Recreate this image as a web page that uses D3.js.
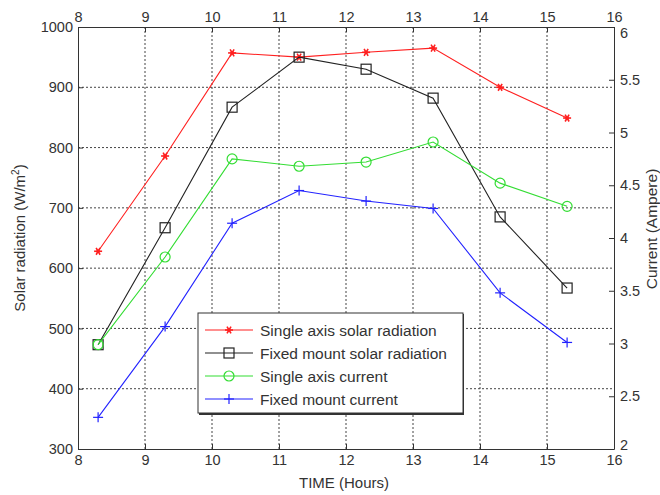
<!DOCTYPE html>
<html>
<head>
<meta charset="utf-8">
<script src="https://cdn.jsdelivr.net/npm/d3@7"></script>
<style>
  body { margin: 0; background: #fff; }
  svg { font-family: "Liberation Sans", Arial, sans-serif; }
  .axis text { font-size: 14.5px; fill: #333; }
  .axis path, .axis line { stroke: #333; }
</style>
</head>
<body>
<div id="chart"></div>
<script>
/* data */
var hours = [8.3, 9.3, 10.3, 11.3, 12.3, 13.3, 14.3, 15.3];
var singleRadiation = [628, 786, 957, 950, 958, 965, 900, 849];
var fixedRadiation = [473, 667, 867, 950, 930, 882, 685, 567];
var singleCurrent = [2.99, 3.82, 4.75, 4.68, 4.72, 4.91, 4.52, 4.30];
var fixedCurrent = [2.30, 3.16, 4.14, 4.45, 4.35, 4.28, 3.48, 3.01];

var xTicks = [8, 9, 10, 11, 12, 13, 14, 15, 16];
var leftTicks = [300, 400, 500, 600, 700, 800, 900, 1000];
var rightTicks = [2, 2.5, 3, 3.5, 4, 4.5, 5, 5.5, 6];

var series = [
  { name: "Single axis solar radiation", values: singleRadiation, axis: "left", color: "#ff2020", marker: "star" },
  { name: "Fixed mount solar radiation", values: fixedRadiation, axis: "left", color: "#222222", marker: "square" },
  { name: "Single axis current", values: singleCurrent, axis: "right", color: "#33dd33", marker: "circle" },
  { name: "Fixed mount current", values: fixedCurrent, axis: "right", color: "#2222ff", marker: "plus" }
];

var W = 660, H = 495;
var m = { left: 78, right: 46, top: 27, bottom: 46 };

var svg = d3.select("#chart").append("svg")
  .attr("width", W).attr("height", H);

var x = d3.scaleLinear().domain([8, 16]).range([m.left, W - m.right]);
var yL = d3.scaleLinear().domain([300, 1000]).range([H - m.bottom, m.top]);
var yR = d3.scaleLinear().domain([2, 6]).range([H - m.bottom, m.top]);

/* grid */
var grid = svg.append("g").attr("stroke", "#444").attr("stroke-width", 1)
  .attr("stroke-dasharray", "2,2");
xTicks.slice(1, -1).forEach(function(t){
  grid.append("line").attr("x1", x(t)).attr("x2", x(t))
    .attr("y1", m.top).attr("y2", H - m.bottom);
});
leftTicks.slice(1, -1).forEach(function(t){
  grid.append("line").attr("x1", m.left).attr("x2", W - m.right)
    .attr("y1", yL(t)).attr("y2", yL(t));
});

/* axes */
var fmt = function(d){ return d; };
svg.append("g").attr("class", "axis")
  .attr("transform", "translate(0," + (H - m.bottom) + ")")
  .call(d3.axisBottom(x).tickValues(xTicks).tickSizeInner(-5).tickSizeOuter(0).tickPadding(6).tickFormat(fmt));
svg.append("g").attr("class", "axis")
  .attr("transform", "translate(0," + m.top + ")")
  .call(d3.axisTop(x).tickValues(xTicks).tickSizeInner(-5).tickSizeOuter(0).tickPadding(5).tickFormat(fmt));
svg.append("g").attr("class", "axis")
  .attr("transform", "translate(" + m.left + ",0)")
  .call(d3.axisLeft(yL).tickValues(leftTicks).tickSizeInner(-5).tickSizeOuter(0).tickPadding(5).tickFormat(fmt));
var rAxis = svg.append("g").attr("class", "axis")
  .attr("transform", "translate(" + (W - m.right) + ",0)")
  .call(d3.axisRight(yR).tickValues(rightTicks).tickSizeInner(-5).tickSizeOuter(0).tickPadding(6).tickFormat(fmt));
// end labels sit right against the "16" labels, nudge them apart a bit
rAxis.selectAll(".tick text")
  .attr("dy", function(d){ return d === 6 ? "0.75em" : d === 2 ? "0.05em" : "0.32em"; });

/* axis titles */
svg.append("text").attr("x", 344).attr("y", 488)
  .attr("text-anchor", "middle").attr("font-size", 15).attr("fill", "#333")
  .text("TIME (Hours)");
var yt = svg.append("text")
  .attr("transform", "translate(25,238) rotate(-90)")
  .attr("text-anchor", "middle").attr("font-size", 15).attr("fill", "#333");
yt.append("tspan").text("Solar radiation (W/m");
yt.append("tspan").attr("font-size", 10).attr("dy", -6).text("2");
yt.append("tspan").attr("dy", 6).text(")");
svg.append("text")
  .attr("transform", "translate(657,229) rotate(-90)")
  .attr("text-anchor", "middle").attr("font-size", 15.5).attr("fill", "#333")
  .text("Current (Ampere)");

/* markers */
function drawMarker(g, type, cx, cy, color) {
  if (type === "star") {
    var r = 4;
    [0, 60, 120].forEach(function(a){
      var rad = a * Math.PI / 180;
      g.append("line").attr("x1", cx - r * Math.cos(rad)).attr("y1", cy - r * Math.sin(rad))
        .attr("x2", cx + r * Math.cos(rad)).attr("y2", cy + r * Math.sin(rad))
        .attr("stroke", color).attr("stroke-width", 1.6);
    });
    g.append("circle").attr("cx", cx).attr("cy", cy).attr("r", 1.8).attr("fill", color);
  } else if (type === "square") {
    g.append("rect").attr("x", cx - 5).attr("y", cy - 5).attr("width", 10).attr("height", 10)
      .attr("fill", "none").attr("stroke", color).attr("stroke-width", 1.2);
  } else if (type === "circle") {
    g.append("circle").attr("cx", cx).attr("cy", cy).attr("r", 5)
      .attr("fill", "none").attr("stroke", color).attr("stroke-width", 1.2);
  } else if (type === "plus") {
    g.append("line").attr("x1", cx - 5).attr("x2", cx + 5).attr("y1", cy).attr("y2", cy)
      .attr("stroke", color).attr("stroke-width", 1.2);
    g.append("line").attr("x1", cx).attr("x2", cx).attr("y1", cy - 5).attr("y2", cy + 5)
      .attr("stroke", color).attr("stroke-width", 1.2);
  }
}

/* lines */
series.forEach(function(s){
  var yS = s.axis === "left" ? yL : yR;
  var line = d3.line().x(function(d, i){ return x(hours[i]); }).y(function(d){ return yS(d); });
  var g = svg.append("g");
  g.append("path").datum(s.values).attr("d", line)
    .attr("fill", "none").attr("stroke", s.color).attr("stroke-width", 1.1);
  s.values.forEach(function(v, i){
    drawMarker(g, s.marker, x(hours[i]), yS(v), s.color);
  });
});

/* legend */
var lg = svg.append("g").attr("transform", "translate(198,313)");
lg.append("rect").attr("x", 1).attr("y", 1).attr("width", 265).attr("height", 101).attr("fill", "#333");
lg.append("rect").attr("width", 265).attr("height", 100)
  .attr("fill", "#fff").attr("stroke", "#333").attr("stroke-width", 1);
series.forEach(function(s, i){
  var cy = 17 + i * 23;
  lg.append("line").attr("x1", 7).attr("x2", 55).attr("y1", cy).attr("y2", cy)
    .attr("stroke", s.color).attr("stroke-width", 1.1);
  drawMarker(lg, s.marker, 31, cy, s.color);
  lg.append("text").attr("x", 62).attr("y", cy + 5.5)
    .attr("font-size", 15.5).attr("fill", "#333").text(s.name);
});
</script>
</body>
</html>
